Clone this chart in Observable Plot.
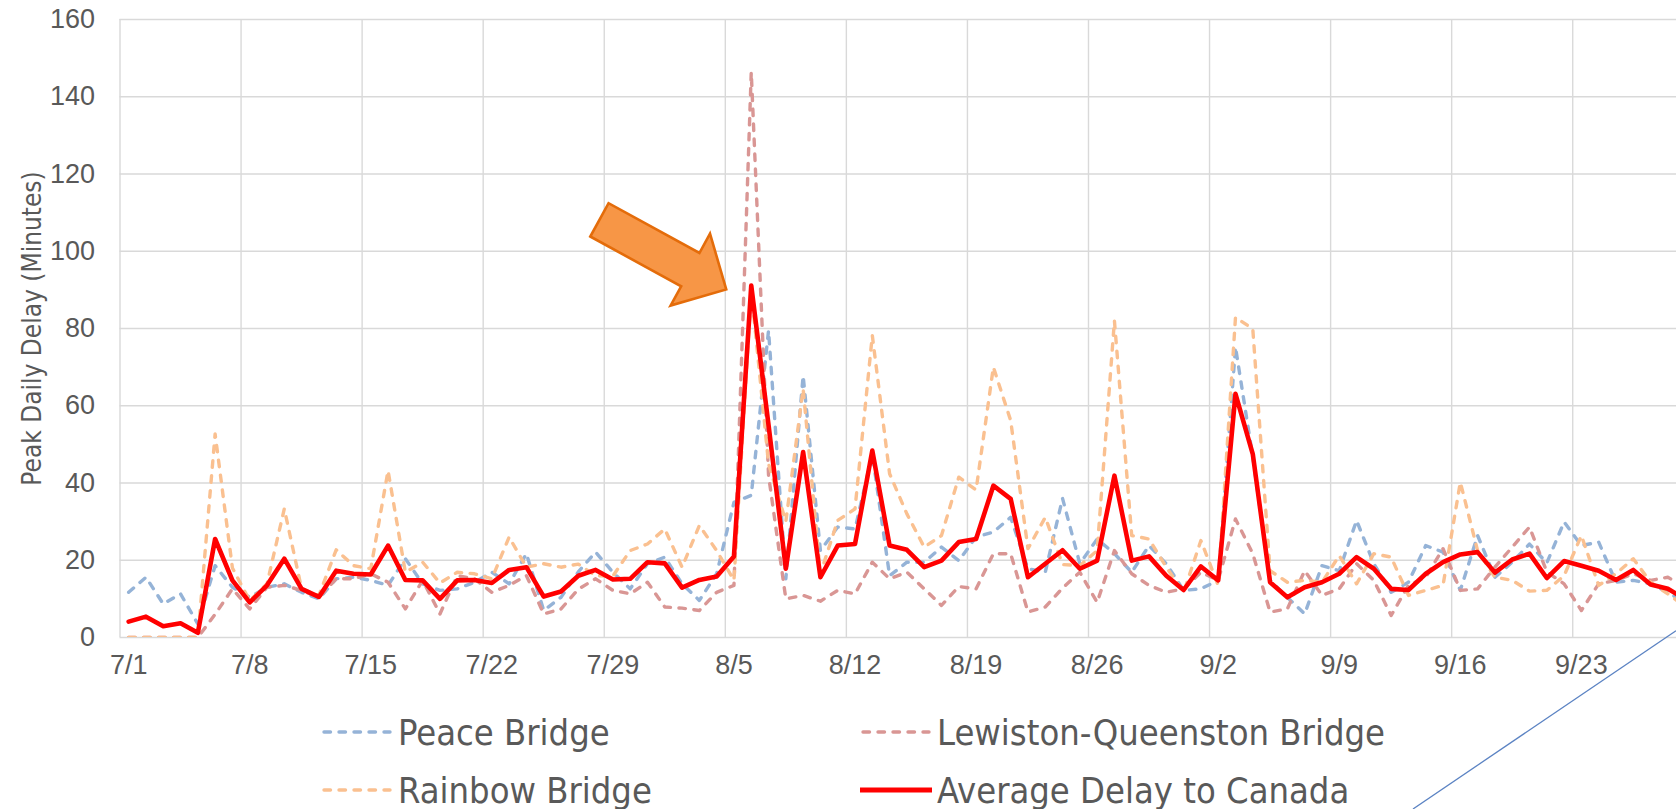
<!DOCTYPE html>
<html><head><meta charset="utf-8">
<script src="https://cdn.jsdelivr.net/npm/d3@7"></script>
<script src="https://cdn.jsdelivr.net/npm/@observablehq/plot@0.6"></script>
<style>
body{margin:0;background:#fff;}
#wrap{position:relative;width:1676px;height:809px;overflow:hidden;background:#fff;}
#wrap > svg.plotsvg{position:absolute;left:0;top:0;}
.leg{position:absolute;height:50px;display:flex;align-items:center;font-family:"DejaVu Sans Condensed","DejaVu Sans",sans-serif;font-size:36px;color:#595959;white-space:nowrap;}
.leg svg{margin-right:5px;flex:none;}
</style></head><body><div id="wrap"></div>
<script>
const year = 2018;
const firstDay = "7/1";
const lastDay = "9/29";

const peace = [11.7,15.6,8.7,11.3,3.5,18.6,13,10.4,13,13.9,
  11.7,10,15.2,15.6,14.8,13.5,20.4,13.9,12.2,12.6,
  14.3,16.9,13.9,21.7,7,10.4,17,22.1,16.9,12.6,
  19.1,20.8,13.9,9.6,16.5,35,36.8,79.5,15.2,67.8,
  22.5,28.6,28.1,47.5,16,19.5,19.5,23.4,19.9,26,
  27.3,31.1,17.8,16.9,36,19.1,25.5,21.7,16.9,23.8,
  19.1,12.2,12.6,14.8,75.2,46.7,14.8,10.4,6.1,18.6,
  17.3,30.3,19.1,11.7,14.3,23.8,22.1,12.2,26.4,15.6,
  19.5,24.2,19.3,29.9,23.8,24.7,14.3,14.8,13.9,11.7,
  9];
const lewiston = [0,0,0,0,0,6,12.6,7.4,13,13.5,
  12.2,10.4,15.2,15.2,16.5,14.3,7.4,14.8,6.1,16,
  15.2,11.7,13.5,16,6.1,7.4,12.5,15.2,12.2,11.3,
  14.3,7.9,7.6,7,11.7,13.5,146.4,42,10,10.9,
  9.4,12.2,11.3,19.5,15.2,16.9,12.6,8.3,13.2,12.6,
  21.7,21.7,6.6,7.9,12.8,16.9,9.1,22.5,16.5,13.5,
  11.7,12.6,16.9,14.8,30.7,21.7,6.6,7.4,17.3,10.9,
  12.6,19.1,14.8,5.7,13.5,15.6,23,12.2,12.6,18.2,
  23.4,28.6,17,13.9,7,13.9,14.8,16.5,14.8,15.6,
  13];
const rainbow = [0,0,0,0,0,52.7,18,9.5,13.9,33.3,
  12.6,10.9,22.7,18.6,17.8,43.2,16.9,19.5,14.1,16.9,
  16.5,15.2,26,18.2,19.1,18.2,19,16,15.9,22.5,
  24.2,28.1,18.2,29,22.5,14.8,90,45,30,64.4,
  16.5,30.3,33.3,78.2,42.4,32,23.4,26.4,41.5,38.2,
  70,56.2,23,31.1,18.9,18.6,22.5,82,26.4,25.5,
  18.2,11.7,25.1,13.5,82.9,79.9,17.3,14.3,14.8,14.3,
  21.2,13.9,21.7,20.8,10.9,12.2,13.5,40.2,22.5,15.6,
  14.8,12,12.2,16,26.4,13.5,16.5,20.4,14.3,11.3,
  8];
const average = [4.1,5.4,2.9,3.7,1.2,25.5,14.8,9.1,13.5,20.4,
  12.6,10.5,17.3,16.5,16.3,23.8,14.9,14.8,10,14.8,
  14.9,14.1,17.5,18.2,10.6,11.9,16,17.5,15,15.2,
  19.5,19.2,12.9,14.9,15.8,21,91.1,55,17.8,48,
  15.6,23.8,24.2,48.4,23.8,22.7,18.2,19.9,24.7,25.5,
  39.3,35.9,15.6,19.1,22.6,17.8,19.9,41.9,19.9,21,
  16,12.3,18.4,14.8,63.1,47.5,14.3,10.4,13,14.3,
  16.5,20.8,17.8,12.6,12.3,16.5,19.5,21.5,22.1,16.8,
  20.2,21.7,15.4,19.8,18.6,17.3,14.9,17.5,13.7,12.6,
  10];

const seriesNames = ["Peace Bridge","Lewiston-Queenston Bridge","Rainbow Bridge","Average Delay to Canada"];
const seriesColors = ["#95B3D7","#D99694","#FAC090","#FF0000"];
const tickLabels = ["7/1","7/8","7/15","7/22","7/29","8/5","8/12","8/19","8/26","9/2","9/9","9/16","9/23"];
const yTicks = [0,20,40,60,80,100,120,140,160];
const yLabel = "Peak Daily Delay (Minutes)";
// annotation arrow (tail centre -> tip), in chart coordinates
const arrowTail = {day:"7/28", hour:18, value:108};
const arrowTip = {day:"8/5", hour:2.7, value:90};

const toDate = (s, h) => { const [m, d] = s.split("/").map(Number); return new Date(Date.UTC(year, m - 1, d, h)); };
const start = toDate(firstDay, 0);
const dayAt = (i, h) => new Date(Date.UTC(year, start.getUTCMonth(), start.getUTCDate() + i, h));

const allSeries = [peace, lewiston, rainbow, average];
const rows = allSeries.map((arr, k) => arr.map((v, i) => ({series: seriesNames[k], date: dayAt(i, 12), value: v})));

const gridDates = tickLabels.map(s => toDate(s, 0));
const tickDates = tickLabels.map(s => toDate(s, 12));
const fmt = d => `${d.getUTCMonth() + 1}/${d.getUTCDate()}`;

const dash = {strokeWidth: 3.4, strokeDasharray: "6.5,8.5", strokeLinecap: "round", strokeLinejoin: "round"};

const chart = Plot.plot({
  width: 1676, height: 690,
  marginLeft: 119.5, marginRight: 0, marginTop: 19, marginBottom: 53,
  style: {fontFamily: '"Liberation Sans Narrow", "Liberation Sans", sans-serif', fontSize: "27px", color: "#595959", background: "white", overflow: "hidden"},
  x: {type: "utc", domain: [start, toDate(lastDay, 0)]},
  y: {domain: [0, 160]},
  marks: [
    Plot.ruleY(yTicks, {stroke: "#D9D9D9", strokeWidth: 1.4}),
    Plot.ruleX(gridDates, {stroke: "#D9D9D9", strokeWidth: 1.4}),
    Plot.axisY({ticks: yTicks, tickSize: 0, tickPadding: 25, label: null}),
    Plot.axisX({ticks: tickDates, tickSize: 0, tickPadding: 17, tickFormat: fmt, label: null}),
    Plot.text([yLabel], {frameAnchor: "left", textAnchor: "middle", rotate: -90, dx: -87.5, text: d => d, fontFamily: '"DejaVu Sans Condensed", "DejaVu Sans", sans-serif', fontSize: 26, fill: "#595959"}),
    Plot.line(rows[0], {x: "date", y: "value", stroke: seriesColors[0], ...dash, clip: true}),
    Plot.line(rows[1], {x: "date", y: "value", stroke: seriesColors[1], ...dash, clip: true}),
    Plot.line(rows[2], {x: "date", y: "value", stroke: seriesColors[2], ...dash, clip: true}),
    Plot.line(rows[3], {x: "date", y: "value", stroke: seriesColors[3], strokeWidth: 4.6, strokeLinejoin: "round", strokeLinecap: "round", clip: true})
  ]
});
chart.classList.add("plotsvg");

// block arrow annotation positioned through the chart's scales
(function () {
  const xs = chart.scale("x"), ys = chart.scale("y");
  const px = t => xs.range[0] + (t - xs.domain[0]) / (xs.domain[1] - xs.domain[0]) * (xs.range[1] - xs.range[0]);
  const py = v => ys.range[0] + (v - ys.domain[0]) / (ys.domain[1] - ys.domain[0]) * (ys.range[1] - ys.range[0]);
  const T = [px(toDate(arrowTail.day, arrowTail.hour)), py(arrowTail.value)];
  const P = [px(toDate(arrowTip.day, arrowTip.hour)), py(arrowTip.value)];
  const L = Math.hypot(P[0] - T[0], P[1] - T[1]);
  const u = [(P[0] - T[0]) / L, (P[1] - T[1]) / L];
  const n = [-u[1], u[0]];
  const headLen = 41, headHalf = 41, shaftHalf = 19;
  const B = [P[0] - u[0] * headLen, P[1] - u[1] * headLen];
  const pt = (o, s) => [o[0] + n[0] * s, o[1] + n[1] * s];
  const pts = [pt(T, shaftHalf), pt(B, shaftHalf), pt(B, headHalf), P, pt(B, -headHalf), pt(B, -shaftHalf), pt(T, -shaftHalf)];
  const poly = document.createElementNS("http://www.w3.org/2000/svg", "polygon");
  poly.setAttribute("points", pts.map(p => p.join(",")).join(" "));
  poly.setAttribute("fill", "#F79646");
  poly.setAttribute("stroke", "#E46C0A");
  poly.setAttribute("stroke-width", "2.6");
  poly.setAttribute("stroke-linejoin", "miter");
  chart.appendChild(poly);
})();

const wrap = document.getElementById("wrap");
wrap.appendChild(chart);

// legend
const legendPos = [
  {x: 321, y: 732}, {x: 860, y: 732}, {x: 321, y: 790}, {x: 860, y: 790}
];
seriesNames.forEach((name, k) => {
  const div = document.createElement("div");
  div.className = "leg";
  div.style.left = legendPos[k].x + "px";
  div.style.top = (legendPos[k].y - 25) + "px";
  const solid = k === 3;
  div.innerHTML = `<svg width="72" height="10"><line x1="${solid ? 0 : 3}" y1="5" x2="${solid ? 72 : 69}" y2="5" stroke="${seriesColors[k]}" stroke-width="${solid ? 5 : 3.4}" ${solid ? "" : 'stroke-dasharray="6.5,8.5" stroke-linecap="round"'}/></svg><span>${name}</span>`;
  wrap.appendChild(div);
});

// stray connector line visible in the original screenshot
const deco = document.createElementNS("http://www.w3.org/2000/svg", "svg");
deco.setAttribute("width", 1676); deco.setAttribute("height", 809);
deco.style.position = "absolute"; deco.style.left = "0"; deco.style.top = "0"; deco.style.pointerEvents = "none";
deco.innerHTML = '<line x1="1676" y1="630.7" x2="1413" y2="809" stroke="#5B83C3" stroke-width="1.3"/>';
wrap.appendChild(deco);
</script></body></html>
